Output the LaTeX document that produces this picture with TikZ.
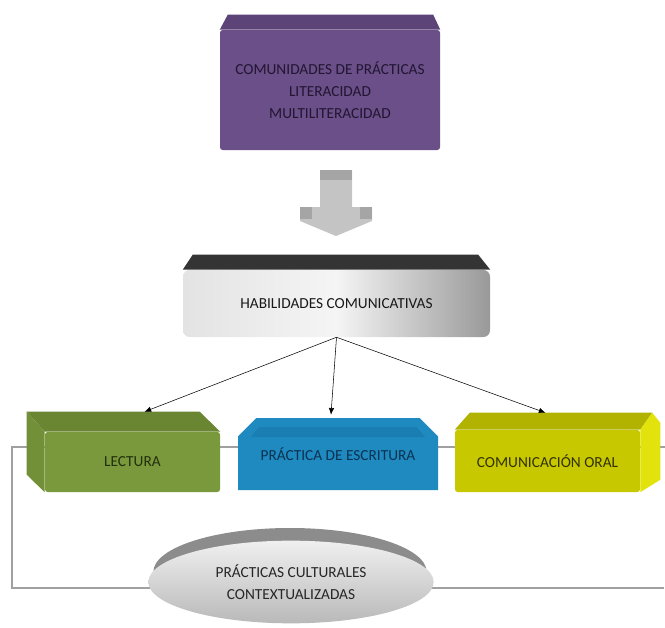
\documentclass[tikz,border=0pt]{standalone}
\usepackage{fontspec}
\setmainfont{Carlito}
\usepackage{tikz}
\usetikzlibrary{arrows.meta,positioning,calc,shapes.geometric,shapes.misc,backgrounds}
\definecolor{purplefront}{RGB}{106,79,136}
\definecolor{purpletop}{RGB}{92,68,120}
\definecolor{purpletext}{RGB}{34,22,50}
\definecolor{arrowgray}{RGB}{196,196,196}
\definecolor{arrowdark}{RGB}{165,165,165}
\definecolor{habtop}{RGB}{52,52,52}
\definecolor{olivefront}{RGB}{122,152,60}
\definecolor{olivetop}{RGB}{106,134,50}
\definecolor{oliveside}{RGB}{114,144,55}
\definecolor{olivetext}{RGB}{34,48,12}
\definecolor{bluefront}{RGB}{31,138,192}
\definecolor{bluetop}{RGB}{27,126,178}
\definecolor{bluetext}{RGB}{10,50,82}
\definecolor{yellowfront}{RGB}{200,200,0}
\definecolor{yellowtop}{RGB}{178,178,0}
\definecolor{yellowside}{RGB}{226,226,12}
\definecolor{yellowtext}{RGB}{50,50,0}
\definecolor{capgray}{RGB}{140,140,140}
\definecolor{framegray}{RGB}{160,160,160}

\begin{document}
\begin{tikzpicture}[x=0.75pt,y=-0.75pt,>=Latex,
  every node/.style={font=\fontsize{11.5}{16.5}\selectfont,align=center},
  box/.style={inner sep=0pt,rounded corners=2pt},
  link/.style={->,thin,>={Latex[length=5pt,width=4pt]}},
  frame/.style={framegray,line width=1.1pt}]
  \useasboundingbox (0,0) rectangle (665,628);
  % top block
  \node[box,fill=purplefront,text=purpletext,minimum width=165pt,minimum height=90pt] (comunidades) at (330,90) {
    COMUNIDADES DE PRÁCTICAS\\
    LITERACIDAD\\
    MULTILITERACIDAD
  };
  \fill[purpletop] (comunidades.north west) -- ++(8,-15) -- ($(comunidades.north east)+(-7,-15)$) -- (comunidades.north east) -- cycle;
  % block arrow
  \fill[arrowgray] (320,170) -- (352,170) -- (352,207) -- (372,207) -- (372,221) -- (336,236) -- (300,221) -- (300,207) -- (320,207) -- cycle;
  \fill[arrowdark] (320,170) rectangle (352,180);
  \fill[arrowdark] (300,207) rectangle (312,219);
  \fill[arrowdark] (360,207) rectangle (372,219);
  % middle block
  \node[box,rounded corners=5pt,left color=gray!22,right color=gray!80,middle color=gray!8,text=black!90,minimum width=230.25pt,minimum height=50.25pt] (habilidades) at (336.5,303.5) {HABILIDADES COMUNICATIVAS};
  \fill[habtop] (habilidades.north west) -- ++(10,-15) -- ($(habilidades.north east)+(-12,-15)$) -- (habilidades.north east) -- cycle;
  % three skills
  \node[box,fill=olivefront,text=olivetext,minimum width=131.25pt,minimum height=45pt] (lectura) at (132.5,462) {LECTURA};
  \fill[olivetop] (lectura.north west) -- ++(-18,-20) -- ++(173,0) -- (lectura.north east) -- cycle;
  \fill[oliveside] (lectura.north west) -- ++(-18,-20) -- ++(0,63) -- (lectura.south west) -- cycle;
  \node[chamfered rectangle,chamfered rectangle corners={north west,north east},chamfered rectangle xsep=9pt,chamfered rectangle ysep=9pt,inner sep=0pt,fill=bluefront,text=bluetext,minimum width=150pt,minimum height=54pt] (practica) at (338,454) {PRÁCTICA DE ESCRITURA};
  \fill[bluetop] ($(practica.north west)+(12,0)$) -- ($(practica.north east)+(-12,0)$) -- ++(8,10) -- ($(practica.north west)+(4,10)$) -- cycle;
  \node[box,fill=yellowfront,text=yellowtext,minimum width=138.75pt,minimum height=46.5pt] (comunicacion) at (547.5,461) {COMUNICACIÓN ORAL};
  \fill[yellowtop] (comunicacion.north west) -- ++(15,-17) -- ($(comunicacion.north east)+(12,-17)$) -- (comunicacion.north east) -- cycle;
  \fill[yellowside] (comunicacion.north east) -- ++(12,-17) -- ++(8,10) -- ++(0,57) -- (comunicacion.south east) -- cycle;
  % bottom disc
  \node[ellipse,fill=capgray,inner sep=0pt,minimum width=205pt,minimum height=66pt] (cap) at (290,572) {};
  \node[ellipse,top color=gray!12,bottom color=gray!55,inner sep=0pt,text=black!85,minimum width=214pt,minimum height=62pt] (practicas) at (291,582) {
    PRÁCTICAS CULTURALES\\
    CONTEXTUALIZADAS
  };
  % connectors
  \draw[link] (habilidades.south) -- ($(lectura.north)+(12,-20)$);
  \draw[link] (habilidades.south) -- ($(practica.north)+(-7,-3)$);
  \draw[link] (habilidades.south) -- ($(comunicacion.north)+(-2,-17)$);
  \coordinate (tr) at (665,447);
  \coordinate (tl) at (12,447);
  \coordinate (bl) at (12,588);
  \coordinate (br) at (664,588);
  \begin{pgfonlayer}{background}
    \draw[frame] (tr) -- (tl) -- (bl) -- (br);
  \end{pgfonlayer}
\end{tikzpicture}
\end{document}
